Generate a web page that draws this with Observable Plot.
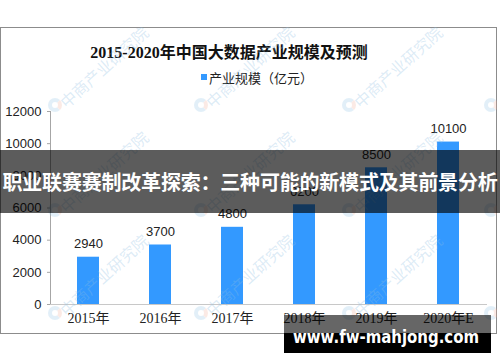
<!DOCTYPE html>
<html>
<head>
<meta charset="utf-8">
<script src="https://cdn.jsdelivr.net/npm/d3@7"></script>
<script src="https://cdn.jsdelivr.net/npm/@observablehq/plot@0.6"></script>
<style>
  html, body { margin: 0; padding: 0; background: #fff; }
  #wrap { position: relative; width: 500px; height: 362px; overflow: hidden; }
  #frame { position: absolute; left: 0; top: 27px; width: 495px; height: 305px; border: 1px solid #8c8c8c; box-sizing: content-box; }
  #title { position: absolute; left: 0; width: 458px; top: 39px; text-align: center;
           font: bold 16px "Liberation Serif", "Noto Sans CJK SC", serif; color: #111; }
  #legend { position: absolute; left: 201px; top: 68px; font: 13px "Liberation Sans", "Noto Sans CJK SC", sans-serif; color: #222; }
  #legend span.sw { display: inline-block; width: 6px; height: 6px; background: #3399ff; margin-right: 2px; vertical-align: 3px; }
  #chart { position: absolute; left: 0; top: 0; }
  .wm { position: absolute; font: 16px "Noto Sans CJK SC", sans-serif; color: rgba(140,190,225,0.3);
        transform-origin: 0 50%; transform: rotate(-42deg); white-space: nowrap; pointer-events: none; }
  #wmLayer { position: absolute; left: 0; top: 27px; width: 497px; height: 306px; overflow: hidden; }
  #banner { position: absolute; left: 0; top: 150px; width: 500px; height: 63px; background: rgba(0,0,0,0.64);
            color: #fff; font: bold 20px "Noto Sans CJK SC", sans-serif; line-height: 63px; white-space: nowrap; text-align: center; letter-spacing: -0.2px; }
  #site1 { position: absolute; left: 284px; top: 315px; width: 207px; height: 18px; background: rgba(0,0,0,0.6); }
  #site2 { position: absolute; left: 284px; top: 333px; width: 207px; height: 20px; background: #000; }
  #siteText { position: absolute; left: 293px; top: 325px; color: #fff; white-space: nowrap;
              font: bold 17px "DejaVu Sans", sans-serif; line-height: 24px; transform-origin: 0 50%; }
</style>
</head>
<body>
<div id="wrap">
  <div id="frame"></div>
  <div id="chart"></div>
  <div id="title">2015-2020年中国大数据产业规模及预测</div>
  <div id="legend"><span class="sw"></span>产业规模（亿元）</div>
  <div id="wmLayer"></div>
  <div id="banner">职业联赛赛制改革探索：三种可能的新模式及其前景分析</div>
  <div id="site1"></div>
  <div id="site2"></div>
  <div id="siteText">www.fw-mahjong.com</div>
</div>
<script>
const years = ["2015年", "2016年", "2017年", "2018年", "2019年", "2020年E"];
const values = [2940, 3700, 4800, 6200, 8500, 10100];
const yTicks = [0, 2000, 4000, 6000, 8000, 10000, 12000];

const data = years.map((y, i) => ({year: y, value: values[i]}));

const chart = Plot.plot({
  width: 500,
  height: 362,
  marginLeft: 50,
  marginRight: 13,
  marginTop: 111,
  marginBottom: 58,
  style: {background: "transparent", fontFamily: "Liberation Sans, Arial, sans-serif"},
  x: {domain: years, paddingInner: 0.69, paddingOuter: 0.345},
  y: {domain: [0, 12000]},
  marks: [
    Plot.barY(data, {x: "year", y: "value", fill: "#3399ff"}),
    Plot.text(data, {x: "year", y: "value", text: d => String(d.value), dy: -13, fontSize: 13, fill: "#222"}),
    Plot.frame({anchor: "left", stroke: "#a6a6a6"}),
    Plot.ruleY([0], {stroke: "#c8c8c8"}),
    Plot.axisY({ticks: yTicks, tickSize: 3, tickPadding: 6, stroke: "#a6a6a6", fontSize: 13, fill: "#222",
                tickFormat: d => String(d), label: null}),
    Plot.axisX({tickSize: 0, tickPadding: 9, fontSize: 14, fill: "#222", label: null,
                fontFamily: "Liberation Serif, Noto Sans CJK SC, serif"})
  ]
});
document.getElementById("chart").appendChild(chart);

// fit site text to the banner width
const st = document.getElementById("siteText");
const w = st.getBoundingClientRect().width;
st.style.transform = `scaleX(${186 / w})`;

// faint watermarks (decoration)
const wmLayer = document.getElementById("wmLayer");
const wmCols = [62, 208, 356, 498];
const wmRows = [75, 180, 283];
for (const r of wmRows) for (const c of wmCols) {
  const d = document.createElement("div");
  d.className = "wm";
  d.textContent = "中商产业研究院";
  d.style.left = c + "px";
  d.style.top = (r - 10) + "px";
  wmLayer.appendChild(d);
  const o = document.createElement("div");
  o.style.cssText = `position:absolute;left:${c-14}px;top:${r-4}px;width:14px;height:14px;border-radius:50%;border:4px solid rgba(140,190,225,0.25);border-right-color:rgba(240,170,150,0.25);box-sizing:border-box;`;
  wmLayer.appendChild(o);
}
</script>
</body>
</html>
